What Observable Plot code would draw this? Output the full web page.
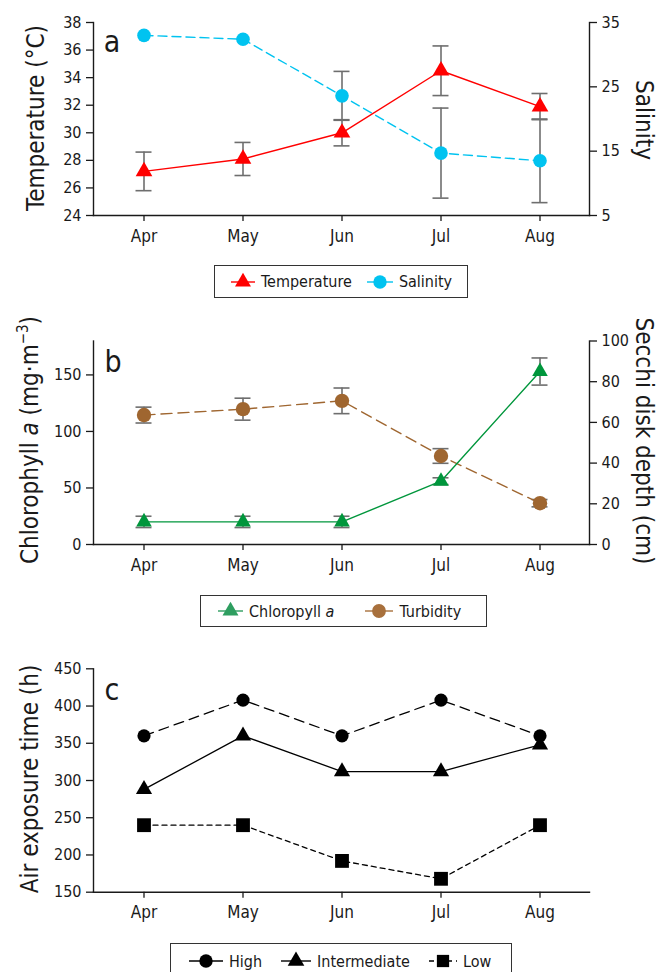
<!DOCTYPE html>
<html><head><meta charset="utf-8">
<script src="https://cdn.jsdelivr.net/npm/d3@7"></script>
<script src="https://cdn.jsdelivr.net/npm/@observablehq/plot@0.6"></script>
<style>
body{margin:0;background:#fff;}
#chart{position:relative;width:657px;height:972px;overflow:hidden;font-family:"Liberation Sans Narrow","Arial Narrow","DejaVu Sans Condensed",sans-serif;color:#1a1a1a;background:#fff;}
#chart svg{position:absolute;left:0;}
.legend{position:absolute;border:1.3px solid #333;box-sizing:border-box;display:flex;align-items:center;font-size:16px;background:#fff;white-space:nowrap;}
.legend .item{display:flex;align-items:center;}
.legend svg{position:static !important;margin-right:5px;}
</style></head><body><div id="chart"></div>
<script>
// ---- data ----
const months = ["Apr", "May", "Jun", "Jul", "Aug"];
const temperature = [27.2, 28.1, 30.0, 34.5, 31.9];
const temperatureErr = [1.4, 1.2, 0.95, 1.8, 0.95];
const salinity = [33.0, 32.4, 23.6, 14.7, 13.5];
const salinityErr = [0, 0, 3.8, 7.0, 6.5];
const chlorophyll = [20, 20, 20, 56, 153];
const chlorophyllErr = [5, 5, 5, 3, 12];
const secchi = [63.6, 66.5, 70.6, 43.5, 20.3];
const secchiErr = [3.9, 5.4, 6.3, 3.6, 1.8];
const airHigh = [360, 408, 360, 408, 360];
const airIntermediate = [288, 360, 312, 312, 348];
const airLow = [240, 240, 192, 168, 240];
const tempTicks = [24, 26, 28, 30, 32, 34, 36, 38];
const salTicks = [5, 15, 25, 35];
const chlTicks = [0, 50, 100, 150];
const secchiTicks = [0, 20, 40, 60, 80, 100];
const airTicks = [150, 200, 250, 300, 350, 400, 450];

// ---- styles ----
const FONT = '"Liberation Sans Narrow","Arial Narrow","DejaVu Sans Condensed",sans-serif';
const AX = "#1a1a1a", ERR = "#6e6e6e";
const RED = "#ff0000", CYAN = "#00c3f0", GREEN = "#00963c", BROWN = "#9f6630";
const chart = document.getElementById("chart");

function rows(vals, errs, map = v => v) {
  return months.map((m, i) => ({
    month: m, y: map(vals[i]),
    lo: map(vals[i] - (errs ? errs[i] : 0)), hi: map(vals[i] + (errs ? errs[i] : 0)),
    err: errs ? errs[i] : 0
  }));
}
function errorMarks(data) {
  const d = data.filter(r => r.err > 0);
  const o = {x: "month", stroke: ERR, strokeWidth: 1.6};
  return [
    Plot.ruleX(d, {...o, y1: "lo", y2: "hi"}),
    Plot.tickY(d, {...o, y: "lo", insetLeft: 41.5, insetRight: 41.5}),
    Plot.tickY(d, {...o, y: "hi", insetLeft: 41.5, insetRight: 41.5})
  ];
}
function base(opts) {
  return {
    width: 657, marginLeft: 93, marginRight: 68,
    x: {type: "band", domain: months, padding: 0},
    style: {fontFamily: FONT, fontSize: "16px", color: AX, background: "transparent", overflow: "visible"},
    ...opts
  };
}
const xAxis = () => Plot.axisX({tickSize: 6, tickPadding: 8, label: null, fontSize: 17, strokeWidth: 1.3});
const frames = (sides) => sides.map(a => Plot.frame({anchor: a, stroke: AX, strokeWidth: 1.4}));
function place(svg, top) { svg.style.top = top + "px"; chart.appendChild(svg); return svg; }
function addText(svg, x, y, rot, size, build) {
  const t = d3.select(svg).append("text")
    .attr("transform", `translate(${x},${y}) rotate(${rot})`)
    .attr("text-anchor", "middle").attr("font-size", size)
    .attr("font-family", FONT).attr("fill", AX);
  if (typeof build === "string") t.text(build); else build(t);
  return t;
}

// ---- panel a ----
const salToT = s => 24 + (s - 5) * 14 / 30;
const tToSal = t => 5 + (t - 24) * 30 / 14;
const tempRows = rows(temperature, temperatureErr);
const salRows = rows(salinity, salinityErr, salToT);
const svgA = Plot.plot(base({
  height: 250, marginTop: 22, marginBottom: 35,
  y: {domain: [24, 38]},
  marks: [
    ...frames(["left", "right", "bottom"]),
    Plot.axisY(tempTicks, {anchor: "left", tickSize: 7, tickPadding: 5, label: null, strokeWidth: 1.3}),
    Plot.axisY(salTicks.map(salToT), {anchor: "right", tickSize: 7, tickPadding: 5, label: null, strokeWidth: 1.3, tickFormat: t => Math.round(tToSal(t))}),
    xAxis(),
    ...errorMarks(tempRows), ...errorMarks(salRows),
    Plot.line(salRows, {x: "month", y: "y", stroke: CYAN, strokeWidth: 1.4, strokeDasharray: "9,5"}),
    Plot.line(tempRows, {x: "month", y: "y", stroke: RED, strokeWidth: 1.4}),
    Plot.dot(salRows, {x: "month", y: "y", r: 6.8, fill: CYAN, symbol: "circle"}),
    Plot.dot(tempRows, {x: "month", y: "y", r: 6.2, fill: RED, symbol: "triangle"})
  ]
}));
place(svgA, 0);
addText(svgA, 44, 118, -90, 24, "Temperature (°C)");
addText(svgA, 636, 120, 90, 24, "Salinity");
addText(svgA, 112, 52, 0, 30, "a");

// ---- panel b ----
const secToC = v => v * 1.8;
const chlRows = rows(chlorophyll, chlorophyllErr);
const secRows = rows(secchi, secchiErr, secToC);
const svgB = Plot.plot(base({
  height: 280, marginTop: 40.5, marginBottom: 36,
  y: {domain: [0, 180]},
  marks: [
    ...frames(["left", "right", "bottom"]),
    Plot.axisY(chlTicks, {anchor: "left", tickSize: 7, tickPadding: 5, label: null, strokeWidth: 1.3}),
    Plot.axisY(secchiTicks.map(secToC), {anchor: "right", tickSize: 7, tickPadding: 5, label: null, strokeWidth: 1.3, tickFormat: t => Math.round(t / 1.8)}),
    xAxis(),
    ...errorMarks(chlRows), ...errorMarks(secRows),
    Plot.line(secRows, {x: "month", y: "y", stroke: BROWN, strokeWidth: 1.4, strokeDasharray: "11,6"}),
    Plot.line(chlRows, {x: "month", y: "y", stroke: GREEN, strokeWidth: 1.4}),
    Plot.dot(secRows, {x: "month", y: "y", r: 7.2, fill: BROWN, symbol: "circle"}),
    Plot.dot(chlRows, {x: "month", y: "y", r: 5.8, fill: GREEN, symbol: "triangle"})
  ]
}));
place(svgB, 300);
addText(svgB, 38, 140, -90, 24, t => {
  t.append("tspan").text("Chlorophyll ");
  t.append("tspan").attr("font-style", "italic").text("a");
  t.append("tspan").text(" (mg·m");
  t.append("tspan").attr("font-size", 15).attr("dy", -10).text("−3");
  t.append("tspan").attr("dy", 10).text(")");
});
addText(svgB, 636, 141, 90, 24, "Secchi disk depth (cm)");
addText(svgB, 113, 72, 0, 30, "b");

// ---- panel c ----
const hiRows = rows(airHigh), midRows = rows(airIntermediate), loRows = rows(airLow);
const svgC = Plot.plot(base({
  height: 290, marginTop: 28.3, marginBottom: 38.3,
  y: {domain: [150, 450]},
  marks: [
    ...frames(["left", "bottom"]),
    Plot.axisY(airTicks, {anchor: "left", tickSize: 7, tickPadding: 5, label: null, strokeWidth: 1.3}),
    xAxis(),
    Plot.line(hiRows, {x: "month", y: "y", stroke: "#000", strokeWidth: 1.3, strokeDasharray: "10,6"}),
    Plot.line(midRows, {x: "month", y: "y", stroke: "#000", strokeWidth: 1.3}),
    Plot.line(loRows, {x: "month", y: "y", stroke: "#000", strokeWidth: 1.3, strokeDasharray: "5,4"}),
    Plot.dot(hiRows, {x: "month", y: "y", r: 6.6, fill: "#000", symbol: "circle"}),
    Plot.dot(midRows, {x: "month", y: "y", r: 6, fill: "#000", symbol: "triangle"}),
    Plot.dot(loRows, {x: "month", y: "y", r: 7.8, fill: "#000", symbol: "square"})
  ]
}));
place(svgC, 640);
addText(svgC, 38, 139, -90, 24, "Air exposure time (h)");
addText(svgC, 112, 60, 0, 30, "c");

// ---- legends ----
function swatch(color, symbol, dash, size, w) {
  const h = 20;
  const sym = d3.symbol().type(symbol).size(size)();
  return `<svg width="${w}" height="${h}" viewBox="0 0 ${w} ${h}"><line x1="1" x2="${w - 1}" y1="10" y2="10" stroke="${color}" stroke-width="1.4" ${dash ? `stroke-dasharray="${dash}"` : ""}/><path d="${sym}" transform="translate(${w / 2},10)" fill="${color}"/></svg>`;
}
function legend(left, top, width, height, pad, gap, list) {
  const div = document.createElement("div");
  div.className = "legend";
  Object.assign(div.style, {left: left + "px", top: top + "px", width: width + "px", height: height + "px", paddingLeft: pad + "px"});
  div.innerHTML = list.map((it, i) => `<div class="item" style="margin-right:${i < list.length - 1 ? gap : 0}px">${swatch(it.color, it.symbol, it.dash, it.size, it.w)}<span>${it.label}</span></div>`).join("");
  chart.appendChild(div);
}
legend(214, 265, 254, 33, 15, 14, [
  {color: RED, symbol: d3.symbolTriangle, size: 110, w: 26, label: "Temperature"},
  {color: CYAN, symbol: d3.symbolCircle, size: 140, w: 28, label: "Salinity"}
]);
legend(200, 595, 287, 32, 16, 30, [
  {color: "#2e9e60", symbol: d3.symbolTriangle, size: 110, w: 27, label: "Chloropyll <i>a</i>"},
  {color: "#a8703c", symbol: d3.symbolCircle, size: 150, w: 30, label: "Turbidity"}
]);
legend(170, 943, 342, 36, 17, 18, [
  {color: "#000", symbol: d3.symbolCircle, size: 140, w: 36, label: "High"},
  {color: "#000", symbol: d3.symbolTriangle, size: 120, w: 32, label: "Intermediate"},
  {color: "#000", symbol: d3.symbolSquare, size: 150, w: 30, dash: "5,4", label: "Low"}
]);
</script></body></html>
